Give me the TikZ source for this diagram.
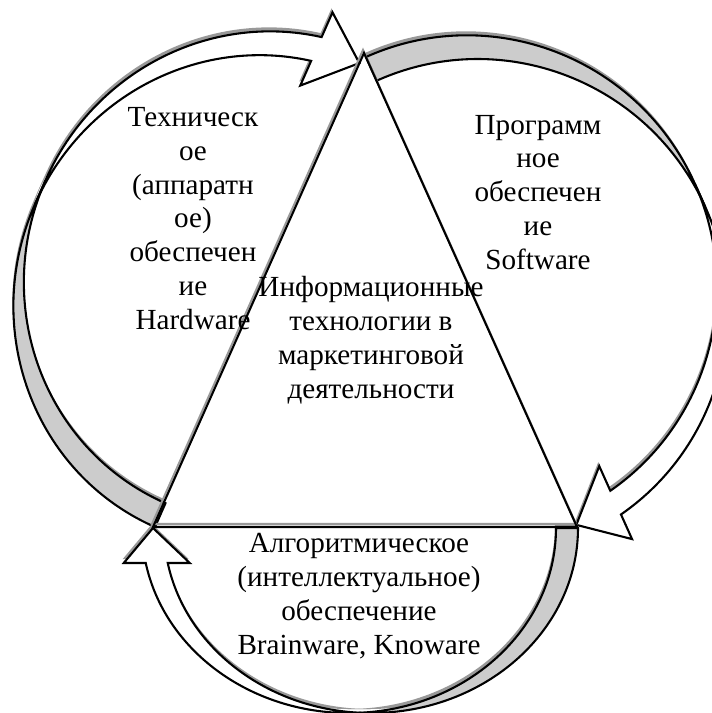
\documentclass[tikz,border=0pt]{standalone}
\usepackage{fontspec}
\setmainfont{Liberation Serif}

% one bent band arrow, local frame: x across the bulge, y from tail to head
% #1 placement, #2 bulge, #3 half height, #4 band, #5 head width, #6 head length
\newcommand\bentarrow[6]{%
  \pgfmathsetmacro\bnS{acos(#6/#2)}%
  \pgfmathsetmacro\bnE{180-\bnS}%
  \pgfmathsetmacro\bnX{#2-#6}%
  \pgfmathsetmacro\bnU{#3+#3*sin(\bnS)}%
  \pgfmathsetmacro\bnL{\bnU+#4}%
  \pgfmathsetmacro\bnUb{\bnU-(#5-#4)/2}%
  \pgfmathsetmacro\bnLb{\bnL+(#5-#4)/2}%
  \pgfmathsetmacro\bnTip{2*#3+#4/2}%
  \pgfmathsetmacro\bnM{#3+#4}%
  % shadow
  \begin{scope}[shift={(-1,-4)},#1]
    \fill[dropfill] (0,#3) arc[start angle=180,end angle=\bnE,x radius=#2,y radius=#3]
      -- (\bnX,\bnUb) -- (#2,\bnTip) -- (\bnX,\bnLb) -- (\bnX,\bnL)
      arc[start angle=\bnE,end angle=180,x radius=#2,y radius=#3] -- cycle;
    \fill[dropfill] (#2,0) arc[start angle=270,end angle=180,x radius=#2,y radius=#3]
      -- (0,\bnM) arc[start angle=180,end angle=270,x radius=#2,y radius=#3] -- cycle;
  \end{scope}
  % front and back of the band
  \begin{scope}[#1]
    \fill[white] (0,#3) arc[start angle=180,end angle=\bnE,x radius=#2,y radius=#3]
      -- (\bnX,\bnUb) -- (#2,\bnTip) -- (\bnX,\bnLb) -- (\bnX,\bnL)
      arc[start angle=\bnE,end angle=180,x radius=#2,y radius=#3] -- cycle;
    \fill[backface] (#2,0) arc[start angle=270,end angle=180,x radius=#2,y radius=#3]
      -- (0,\bnM) arc[start angle=180,end angle=270,x radius=#2,y radius=#3] -- cycle;
    \draw[arrowline] (0,#3) arc[start angle=180,end angle=\bnE,x radius=#2,y radius=#3]
      -- (\bnX,\bnUb) -- (#2,\bnTip) -- (\bnX,\bnLb) -- (\bnX,\bnL)
      arc[start angle=\bnE,end angle=180,x radius=#2,y radius=#3] -- cycle;
    \draw[arrowline] (#2,0) arc[start angle=270,end angle=180,x radius=#2,y radius=#3]
      -- (0,\bnM) arc[start angle=180,end angle=270,x radius=#2,y radius=#3] -- cycle;
  \end{scope}}

\begin{document}
\begin{tikzpicture}[x=0.48pt,y=-0.48pt,
  arrowline/.style={draw=black,line width=1pt},
  backface/.style={fill=black!20},
  dropfill/.style={fill=black!40},
  trishadow/.style={draw=black!40,line width=1pt},
  lbl/.style={align=center,inner sep=0pt,font=\fontsize{14}{16.2}\selectfont}]
\useasboundingbox (0,0) rectangle (712,713);
% Drawing the arrows
% Hardware arrow
\bentarrow{shift={(155,527)},x={(0.4392pt,-0.19344pt)},y={(0.19344pt,0.4392pt)},shift={(-240,0)}}{240}{247}{26}{80}{45}
% Software arrow
\bentarrow{shift={(366,57)},x={(-0.43776pt,-0.1968pt)},y={(0.1968pt,-0.43776pt)},shift={(-248,0)}}{248}{250}{26}{80}{45}
% Brainware arrow
\bentarrow{shift={(578,528)},x={(0pt,0.48pt)},y={(-0.48pt,0pt)},shift={(-185,0)}}{185}{207}{22}{66}{35}
% Done with arrows; drawing the triangle
\coordinate (apex) at (364,53);
\coordinate (bl) at (153,527);
\coordinate (br) at (577,527);
\draw[trishadow] (363,50) -- (152,524) -- (576,524) -- cycle;
\draw[arrowline] (apex) -- (bl) -- (br) -- cycle;
% Done with triangle; drawing labels
\node[lbl,anchor=base] (hw) at (193,329) {Техническ\\ое\\(аппаратн\\ое)\\обеспечен\\ие\\Hardware};
\node[lbl,anchor=base] (sw) at (538,269) {Программ\\ное\\обеспечен\\ие\\Software};
\node[lbl,anchor=base] (it) at (371,398) {Информационные\\технологии в\\маркетинговой\\деятельности};
\node[lbl,anchor=base] (bw) at (359,654) {Алгоритмическое\\(интеллектуальное)\\обеспечение\\Brainware, Knoware};
\end{tikzpicture}
\end{document}
